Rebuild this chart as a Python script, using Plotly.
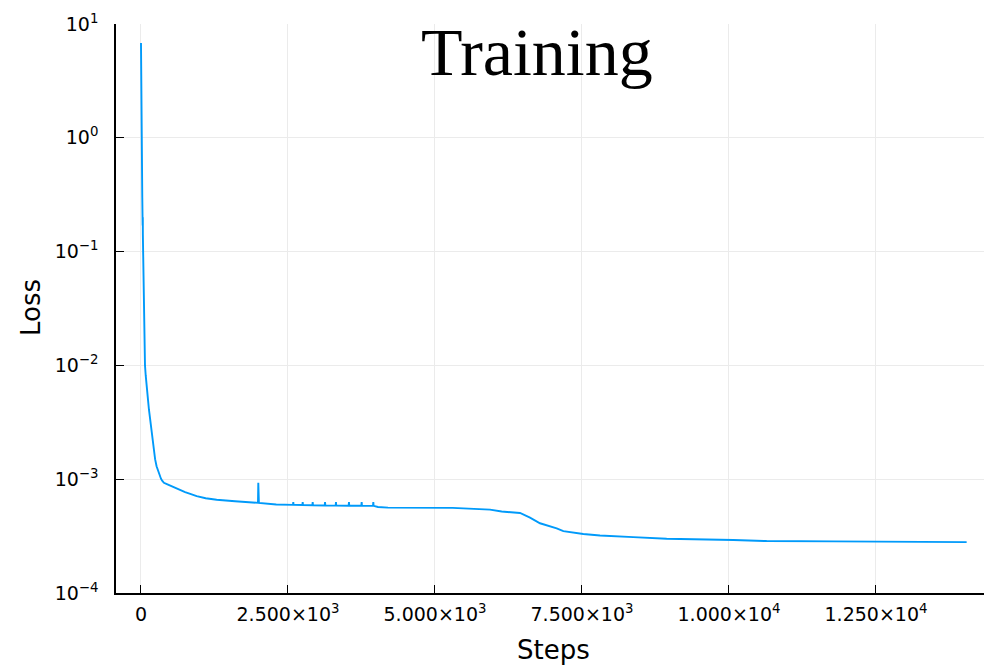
import plotly.graph_objects as go

steps = [0, 3, 8, 14, 15, 16, 22, 28, 30, 31, 32, 38, 44, 45, 46, 55, 62, 68, 80, 90,
         105, 119, 135, 153, 175, 195, 215, 240, 265, 290, 315, 340, 360, 390, 450,
         550, 650, 750, 850, 947, 1100, 1287, 1600, 1990, 1995, 2005,
         2300, 2585, 2590, 2595, 2745, 2750, 2755, 2915, 2920, 2925, 3125, 3130, 3135,
         3311, 3316, 3321, 3532, 3537, 3542, 3748, 3753, 3758, 3946, 3951, 3956,
         4030, 4200, 5300, 5935, 6134, 6446, 6616, 6786, 7070, 7183, 7522, 7806,
         8372, 8940, 10074, 10640, 11774, 12908, 14042]
loss = [6.8, 3.0, 1.2, 0.55, 0.75, 0.5, 0.3, 0.17, 0.16, 0.2, 0.14, 0.09, 0.05, 0.065,
        0.046, 0.025, 0.015, 0.01, 0.0082, 0.0068, 0.0058, 0.005, 0.0041, 0.0034,
        0.0027, 0.0021, 0.0018, 0.0015, 0.0013, 0.00118, 0.00108, 0.00101, 0.00097,
        0.00093, 0.0009, 0.00085, 0.00081, 0.00077, 0.00074, 0.00071, 0.00068,
        0.00066, 0.00064, 0.00062, 0.00093, 0.00062,
        0.0006, 0.000595, 0.00063, 0.000595, 0.000593, 0.00063, 0.000593, 0.00059,
        0.00063, 0.00059, 0.000588, 0.00063, 0.000588, 0.000586, 0.00063, 0.000586,
        0.000585, 0.00063, 0.000585, 0.000584, 0.00063, 0.000584, 0.000583, 0.00063,
        0.000583, 0.00057, 0.000563, 0.00056, 0.00054, 0.00052, 0.000505, 0.00046,
        0.00041, 0.00037, 0.00035, 0.00033, 0.00032, 0.00031, 0.0003, 0.000292,
        0.000286, 0.000284, 0.000282, 0.00028]

x_ticks = [0, 2500, 5000, 7500, 10000, 12500]
x_labels = ["0", "2.500×10<sup>3</sup>", "5.000×10<sup>3</sup>", "7.500×10<sup>3</sup>",
            "1.000×10<sup>4</sup>", "1.250×10<sup>4</sup>"]
y_ticks = [1e-4, 1e-3, 1e-2, 1e-1, 1e0, 1e1]
y_labels = ["10<sup>−4</sup>", "10<sup>−3</sup>", "10<sup>−2</sup>", "10<sup>−1</sup>",
            "10<sup>0</sup>", "10<sup>1</sup>"]

W, H = 984, 666
L, R, T, B = 116, 0, 24, 73

fig = go.Figure()
fig.add_trace(go.Scatter(x=steps, y=loss, mode="lines",
                         line=dict(color="#009AFA", width=1.9), showlegend=False))

axis_font = dict(family="DejaVu Sans", size=19, color="black")
fig.update_layout(
    width=W, height=H,
    margin=dict(l=L, r=R, t=T, b=B, pad=0),
    paper_bgcolor="white", plot_bgcolor="white",
    xaxis=dict(range=[-425, 14337], tickvals=x_ticks, ticktext=x_labels,
               ticks="inside", ticklen=8, tickwidth=1.2, tickcolor="black",
               showline=True, linecolor="black", linewidth=1.5,
               showgrid=True, gridcolor="#ebebeb", gridwidth=1, zeroline=False,
               tickfont=axis_font, ticklabelstandoff=3),
    yaxis=dict(type="log", range=[-4, 1], tickvals=y_ticks, ticktext=y_labels,
               ticks="inside", ticklen=8, tickwidth=1.2, tickcolor="black",
               showline=True, linecolor="black", linewidth=1.5,
               showgrid=True, gridcolor="#ebebeb", gridwidth=1, zeroline=False,
               tickfont=axis_font, ticklabelstandoff=12),
)

plot_w = W - L - R
plot_h = H - T - B
fig.add_annotation(text="Training", xref="paper", yref="paper",
                   x=(536.5 - L) / plot_w, y=1 - (52 - T) / plot_h,
                   xanchor="center", yanchor="middle", showarrow=False,
                   font=dict(family="Liberation Serif", size=68, color="black"))
fig.add_annotation(text="Steps", xref="paper", yref="paper",
                   x=(553 - L) / plot_w, y=1 - (650 - T) / plot_h,
                   xanchor="center", yanchor="middle", showarrow=False,
                   font=dict(family="DejaVu Sans", size=26, color="black"))
fig.add_annotation(text="Loss", xref="paper", yref="paper",
                   x=(31 - L) / plot_w, y=1 - (308 - T) / plot_h,
                   xanchor="center", yanchor="middle", showarrow=False, textangle=-90,
                   font=dict(family="DejaVu Sans", size=26, color="black"))

fig.write_html("out.html")
